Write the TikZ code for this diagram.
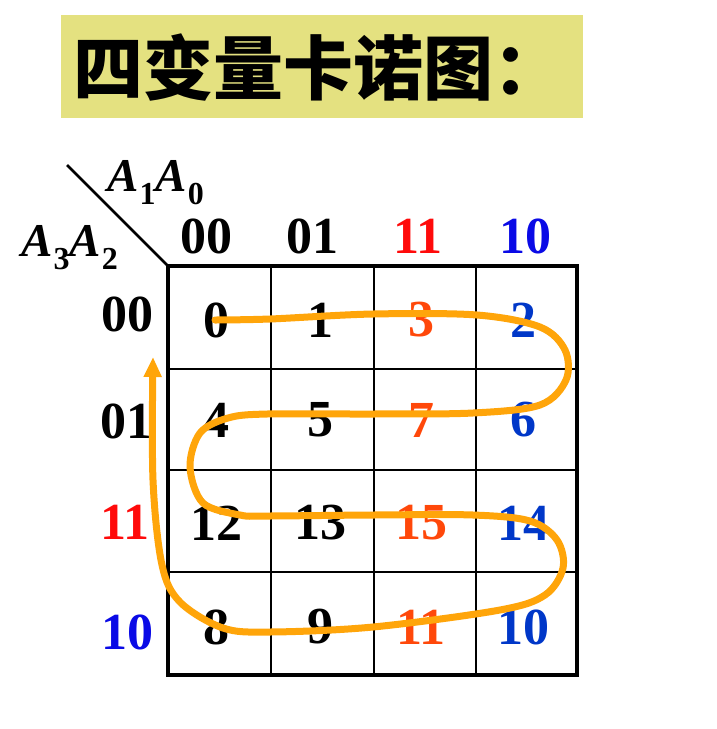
\documentclass[tikz,border=0pt]{standalone}
\usepackage{fontspec}
\setmainfont{Liberation Serif}
\newfontfamily\cjk{Noto Sans CJK SC}
\usepackage{xcolor}
\usetikzlibrary{arrows.meta,positioning,calc}

\definecolor{titlebg}{RGB}{228,225,128}
\definecolor{hdred}{RGB}{255,10,10}
\definecolor{hdblue}{RGB}{10,10,230}
\definecolor{cellred}{RGB}{255,72,10}
\definecolor{cellblue}{RGB}{0,55,200}
\definecolor{pathorange}{RGB}{255,165,10}

\newcommand{\Asub}[1]{{\bfseries\itshape A}\kern1pt\raisebox{-13pt}{\bfseries\fontsize{32}{36}\selectfont #1}}

\begin{document}
\begin{tikzpicture}[
      x=1pt,y=-1pt,
      num/.style={inner sep=0pt,font=\fontsize{52}{60}\selectfont\bfseries},
      varlabel/.style={inner sep=0pt,anchor=base west,font=\fontsize{47}{52}\selectfont},
      outer/.style={line width=4pt},
      inner/.style={line width=2pt},
      snake/.style={line width=7pt,draw=pathorange,line cap=round,
        -{Triangle[length=20pt,width=17pt]}}
    ]
    \useasboundingbox (0,0) rectangle (717,729);

    % Title
    \fill[titlebg] (61,15) rectangle (583,118);
    \node[inner sep=0pt,anchor=west,font=\cjk\bfseries\fontsize{70}{80}\selectfont] (title) at (73,68) {四变量卡诺图：};

    % Grid
    \draw[inner] (271,266) -- (271,675) (374,266) -- (374,675) (476,266) -- (476,675);
    \draw[inner] (168,369) -- (577,369) (168,470) -- (577,470) (168,572) -- (577,572);
    \draw[outer] (168,266) rectangle (577,675);
    \coordinate (corner) at (168,266);
    \coordinate (diagend) at (67,165);
    \draw[line width=2.5pt] (diagend) -- (corner);

    % Variable names
    \node[varlabel] (colvars) at (107,191) {\Asub{1}\Asub{0}};
    \node[varlabel] (rowvars) at (21,256) {\Asub{3}\Asub{2}};

    % Column and row codes
    \node[num] (c00) at (206,236) {00};
    \node[num] (c01) at (312,236) {01};
    \node[num,text=hdred] (c11) at (418,236) {11};
    \node[num,text=hdblue] (c10) at (525,236) {10};
    \node[num] (r00) at (127,314) {00};
    \node[num] (r01) at (126,421) {01};
    \node[num,text=hdred] (r11) at (125,522) {11};
    \node[num,text=hdblue] (r10) at (127,632) {10};

    % Cell numbers
    \foreach \row/\y in {0/320,1/420,2/523,3/627}
      \foreach \col/\x/\clr in {0/216/black,1/320/black,2/421/cellred,3/523/cellblue} {
        \pgfmathtruncatemacro{\m}{{{0,1,3,2},{4,5,7,6},{12,13,15,14},{8,9,11,10}}[\row][\col]}
        \node[num,text=\clr] (m\m) at (\x,\y) {\m};
      }

    % Cell order
    \coordinate (tip) at (153,357);
    \draw[snake] plot[smooth,tension=0.55] coordinates {
      (215,320) (270,319) (373,314) (477,315) (540,327) (565,350) (566,380) (540,405)
      (473,413) (373,414) (267,414) (228,418) (200,433) (190,467) (203,503) (240,515)
      (267,516) (373,515) (473,515) (530,521) (557,540) (563,568) (545,595) (500,610)
      (373,627) (270,632) (223,628) (180,602) (162,565) (153,480) (tip)};
  \end{tikzpicture}
\end{document}
